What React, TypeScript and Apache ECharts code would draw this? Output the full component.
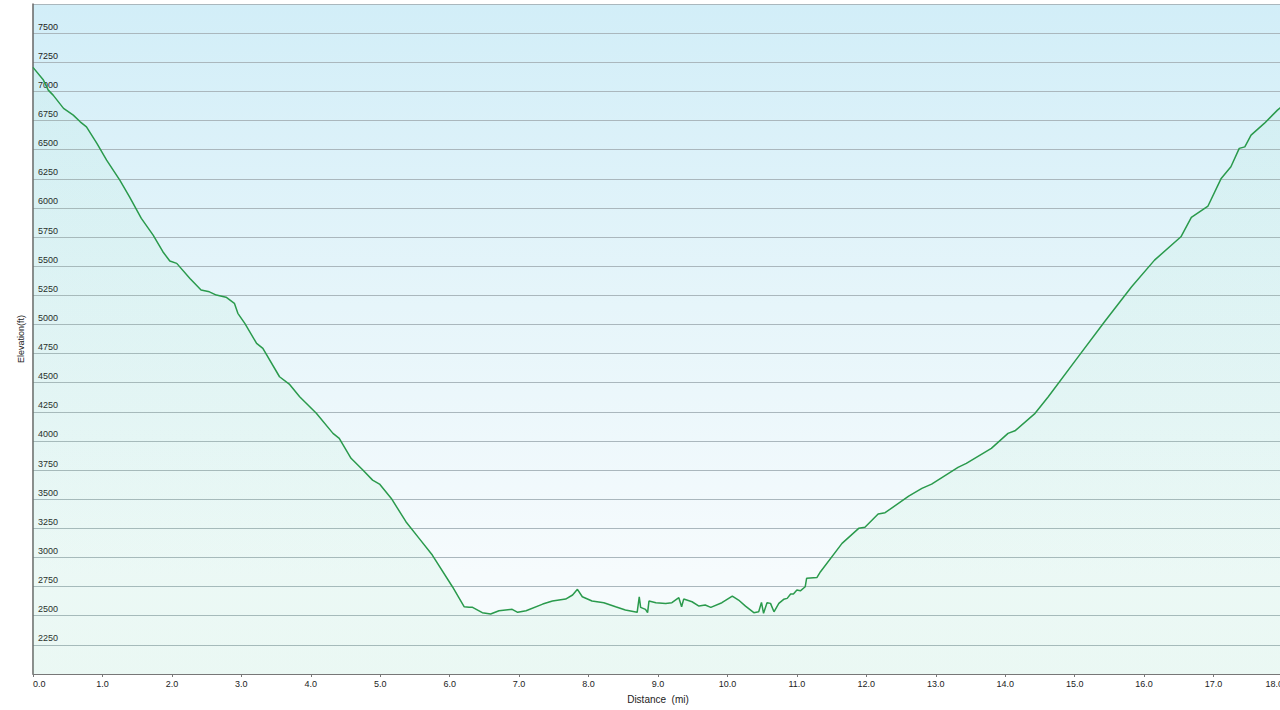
import React, { useEffect, useRef } from "react";
import * as echarts from "echarts";

const distanceMi: number[] = [
  0.0, 0.15, 0.22, 0.29, 0.44, 0.58, 0.68, 0.77, 0.92, 1.06, 1.25, 1.39, 1.56, 1.73, 1.87, 1.97,
  2.07, 2.26, 2.42, 2.54, 2.64, 2.78, 2.9, 2.95, 3.05, 3.22, 3.31, 3.55, 3.69, 3.84, 4.08, 4.32,
  4.41, 4.58, 4.75, 4.89, 4.99, 5.16, 5.37, 5.56, 5.75, 6.04, 6.21, 6.28, 6.33, 6.47, 6.59, 6.71,
  6.9, 6.98, 7.1, 7.34, 7.48, 7.67, 7.77, 7.84, 7.91, 8.05, 8.22, 8.39, 8.53, 8.7, 8.73, 8.75,
  8.82, 8.85, 8.87, 8.97, 9.11, 9.2, 9.3, 9.34, 9.37, 9.49, 9.59, 9.68, 9.76, 9.92, 10.07, 10.16,
  10.26, 10.38, 10.45, 10.49, 10.52, 10.57, 10.62, 10.67, 10.74, 10.81, 10.86, 10.91, 10.95, 11.0,
  11.05, 11.12, 11.14, 11.29, 11.34, 11.65, 11.89, 11.98, 12.17, 12.27, 12.61, 12.8, 12.94, 13.32,
  13.44, 13.8, 14.04, 14.14, 14.43, 14.62, 15.05, 15.43, 15.82, 16.15, 16.53, 16.68, 16.92, 17.11,
  17.25, 17.37, 17.45, 17.54, 17.73, 17.92, 18.0,
];

const elevationFt: number[] = [
  7206, 7097, 7011, 6968, 6854, 6796, 6739, 6696, 6554, 6410, 6239, 6095, 5910, 5767, 5624, 5544,
  5524, 5395, 5295, 5280, 5252, 5234, 5181, 5095, 5009, 4837, 4795, 4551, 4488, 4379, 4237, 4065,
  4022, 3851, 3750, 3664, 3630, 3507, 3307, 3164, 3021, 2749, 2577, 2572, 2572, 2526, 2515, 2543,
  2555, 2529, 2543, 2600, 2626, 2643, 2678, 2727, 2663, 2626, 2612, 2577, 2549, 2529, 2663, 2572,
  2555, 2526, 2626, 2612, 2606, 2612, 2655, 2577, 2643, 2620, 2583, 2592, 2572, 2612, 2669, 2635,
  2583, 2526, 2534, 2615, 2521, 2612, 2606, 2534, 2606, 2641, 2649, 2686, 2686, 2720,
  2714, 2749, 2821, 2829, 2878, 3121, 3250, 3259, 3373, 3384, 3527, 3593, 3630, 3773,
  3808, 3936, 4065, 4087, 4237, 4379, 4722, 5023, 5323, 5552, 5752, 5919, 6016, 6253,
  6353, 6511, 6524, 6625, 6725, 6839, 6880,
];

const yTicks = { min: 2000, max: 7750, step: 250 };
const xTicks = { min: 0, max: 18, step: 1 };

export default function App() {
  const ref = useRef<HTMLDivElement>(null);
  useEffect(() => {
    if (!ref.current) return;
    const chart = echarts.init(ref.current, undefined, { renderer: "svg" });
    const data = distanceMi.map((d, i) => [d, elevationFt[i]]);
    const font = "'Liberation Sans', Arial, sans-serif";
    chart.setOption({
      animation: false,
      backgroundColor: "#ffffff",
      grid: {
        left: 33,
        top: 4,
        bottom: 36,
        right: 0,
        show: true,
        borderWidth: 0,
        backgroundColor: new echarts.graphic.LinearGradient(0, 0, 0, 1, [
          { offset: 0, color: "#d2eef8" },
          { offset: 0.45, color: "#e6f5fa" },
          { offset: 0.85, color: "#f6fbfd" },
          { offset: 1, color: "#f6fbfc" },
        ]),
      },
      xAxis: {
        type: "value",
        min: xTicks.min,
        max: xTicks.max,
        interval: xTicks.step,
        name: "Distance  (mi)",
        nameLocation: "middle",
        nameGap: 20,
        nameTextStyle: { fontFamily: font, fontSize: 10, color: "#222" },
        axisLine: { show: true, lineStyle: { color: "#777", width: 1 } },
        axisTick: { show: true, length: 3, lineStyle: { color: "#777" } },
        splitLine: { show: false },
        axisLabel: {
          fontFamily: font,
          fontSize: 9,
          color: "#222",
          margin: 5,
          formatter: (v: number) => v.toFixed(1),
          alignMinLabel: "left",
          alignMaxLabel: "right",
        },
      },
      yAxis: {
        type: "value",
        min: yTicks.min,
        max: yTicks.max,
        interval: yTicks.step,
        name: "Elevation(ft)",
        nameLocation: "middle",
        nameGap: 3,
        nameRotate: 90,
        nameTextStyle: { fontFamily: font, fontSize: 9, color: "#222" },
        axisLine: { show: true, lineStyle: { color: "#666", width: 1.5 } },
        axisTick: { show: false },
        splitLine: { show: true, lineStyle: { color: "#aab7bd", width: 1 } },
        axisLabel: {
          inside: true,
          margin: 5,
          fontFamily: font,
          fontSize: 9,
          color: "#222",
          verticalAlign: "bottom",
          padding: [0, 0, 2, 0],
          showMinLabel: false,
          showMaxLabel: false,
          formatter: (v: number) => String(v),
        },
      },
      series: [
        {
          type: "line",
          data,
          symbol: "none",
          smooth: false,
          lineStyle: { color: "#2a9a4c", width: 1.5 },
          areaStyle: {
            color: new echarts.graphic.LinearGradient(0, 0, 0, 1, [
              { offset: 0, color: "rgba(120,220,160,0.08)" },
              { offset: 1, color: "rgba(120,220,160,0.13)" },
            ]),
            origin: "start",
          },
        },
      ],
    });
    return () => chart.dispose();
  }, []);
  return (
    <div
      style={{
        position: "fixed",
        left: 0,
        top: 0,
        width: 1280,
        height: 710,
        overflow: "hidden",
        background: "#fff",
      }}
    >
      <div ref={ref} style={{ width: 1286, height: 710 }} />
    </div>
  );
}
